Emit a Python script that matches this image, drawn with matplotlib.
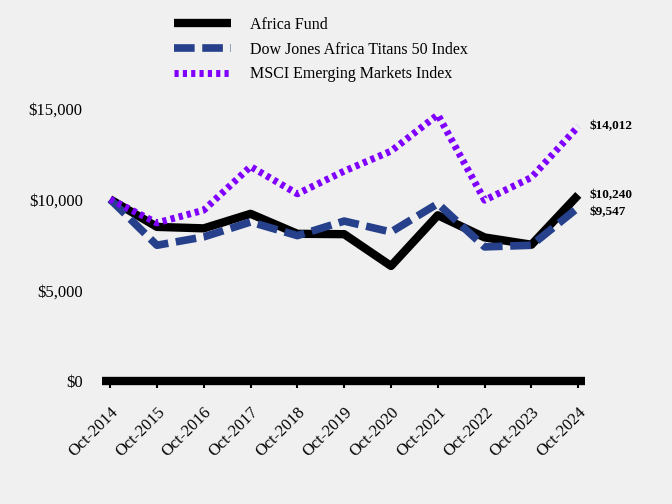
import numpy as np
import matplotlib.pyplot as plt
from matplotlib.ticker import FuncFormatter

years = ['Oct-2014', 'Oct-2015', 'Oct-2016', 'Oct-2017', 'Oct-2018', 'Oct-2019',
         'Oct-2020', 'Oct-2021', 'Oct-2022', 'Oct-2023', 'Oct-2024']
africa_fund = [10000, 8480, 8400, 9200, 8100, 8080, 6330, 9120, 7900, 7500, 10240]
dow_jones = [10000, 7470, 7930, 8750, 8000, 8800, 8200, 9760, 7380, 7470, 9547]
msci = [10000, 8700, 9400, 11800, 10300, 11550, 12650, 14650, 9950, 11200, 14012]

plt.rcParams['font.family'] = ['Liberation Serif', 'DejaVu Serif']
bg = '#f0f0f0'

fig = plt.figure(figsize=(6.72, 5.04), dpi=100, facecolor=bg)
ax = fig.add_axes([0.152, 0.244, 0.719, 0.577], facecolor=bg)

x = np.arange(len(years))
ax.plot(x, africa_fund, color='black', lw=6, label='Africa Fund', solid_capstyle='butt')
ax.plot(x, dow_jones, color='#26408b', lw=5.5, ls=(0, (2.7, 1.0)), label='Dow Jones Africa Titans 50 Index')
ax.plot(x, msci, color='#8000ff', lw=5, ls=(0, (0.6, 0.6)), label='MSCI Emerging Markets Index')

ax.set_xlim(-0.17, 10.15)
ax.set_ylim(0, 16000)
ax.set_yticks([0, 5000, 10000, 15000])
ax.yaxis.set_major_formatter(FuncFormatter(lambda v, p: '${:,.0f}'.format(v)))
ax.set_xticks(x)
ax.set_xticklabels(years, rotation=45, ha='right', rotation_mode='anchor')

for s in ['top', 'right', 'left']:
    ax.spines[s].set_visible(False)
ax.spines['bottom'].set_linewidth(6)
ax.spines['bottom'].set_capstyle('butt')
ax.tick_params(axis='y', length=0, labelsize=12, pad=14)
ax.tick_params(axis='x', length=5, width=1.5, labelsize=12, pad=12)

# end-of-line value labels
ax.text(10.25, 10240, '$10,240', fontsize=9.5, fontweight='bold', va='center')
ax.text(10.25, 9300, '$9,547', fontsize=9.5, fontweight='bold', va='center')
ax.text(10.25, 14012, '$14,012', fontsize=9.5, fontweight='bold', va='center')

fig.legend(loc='upper left', bbox_to_anchor=(0.237, 0.995), frameon=False,
           fontsize=11.5, handlelength=3.6, handletextpad=1.2, labelspacing=0.55)

plt.savefig('out.png', dpi=100, facecolor=bg)
